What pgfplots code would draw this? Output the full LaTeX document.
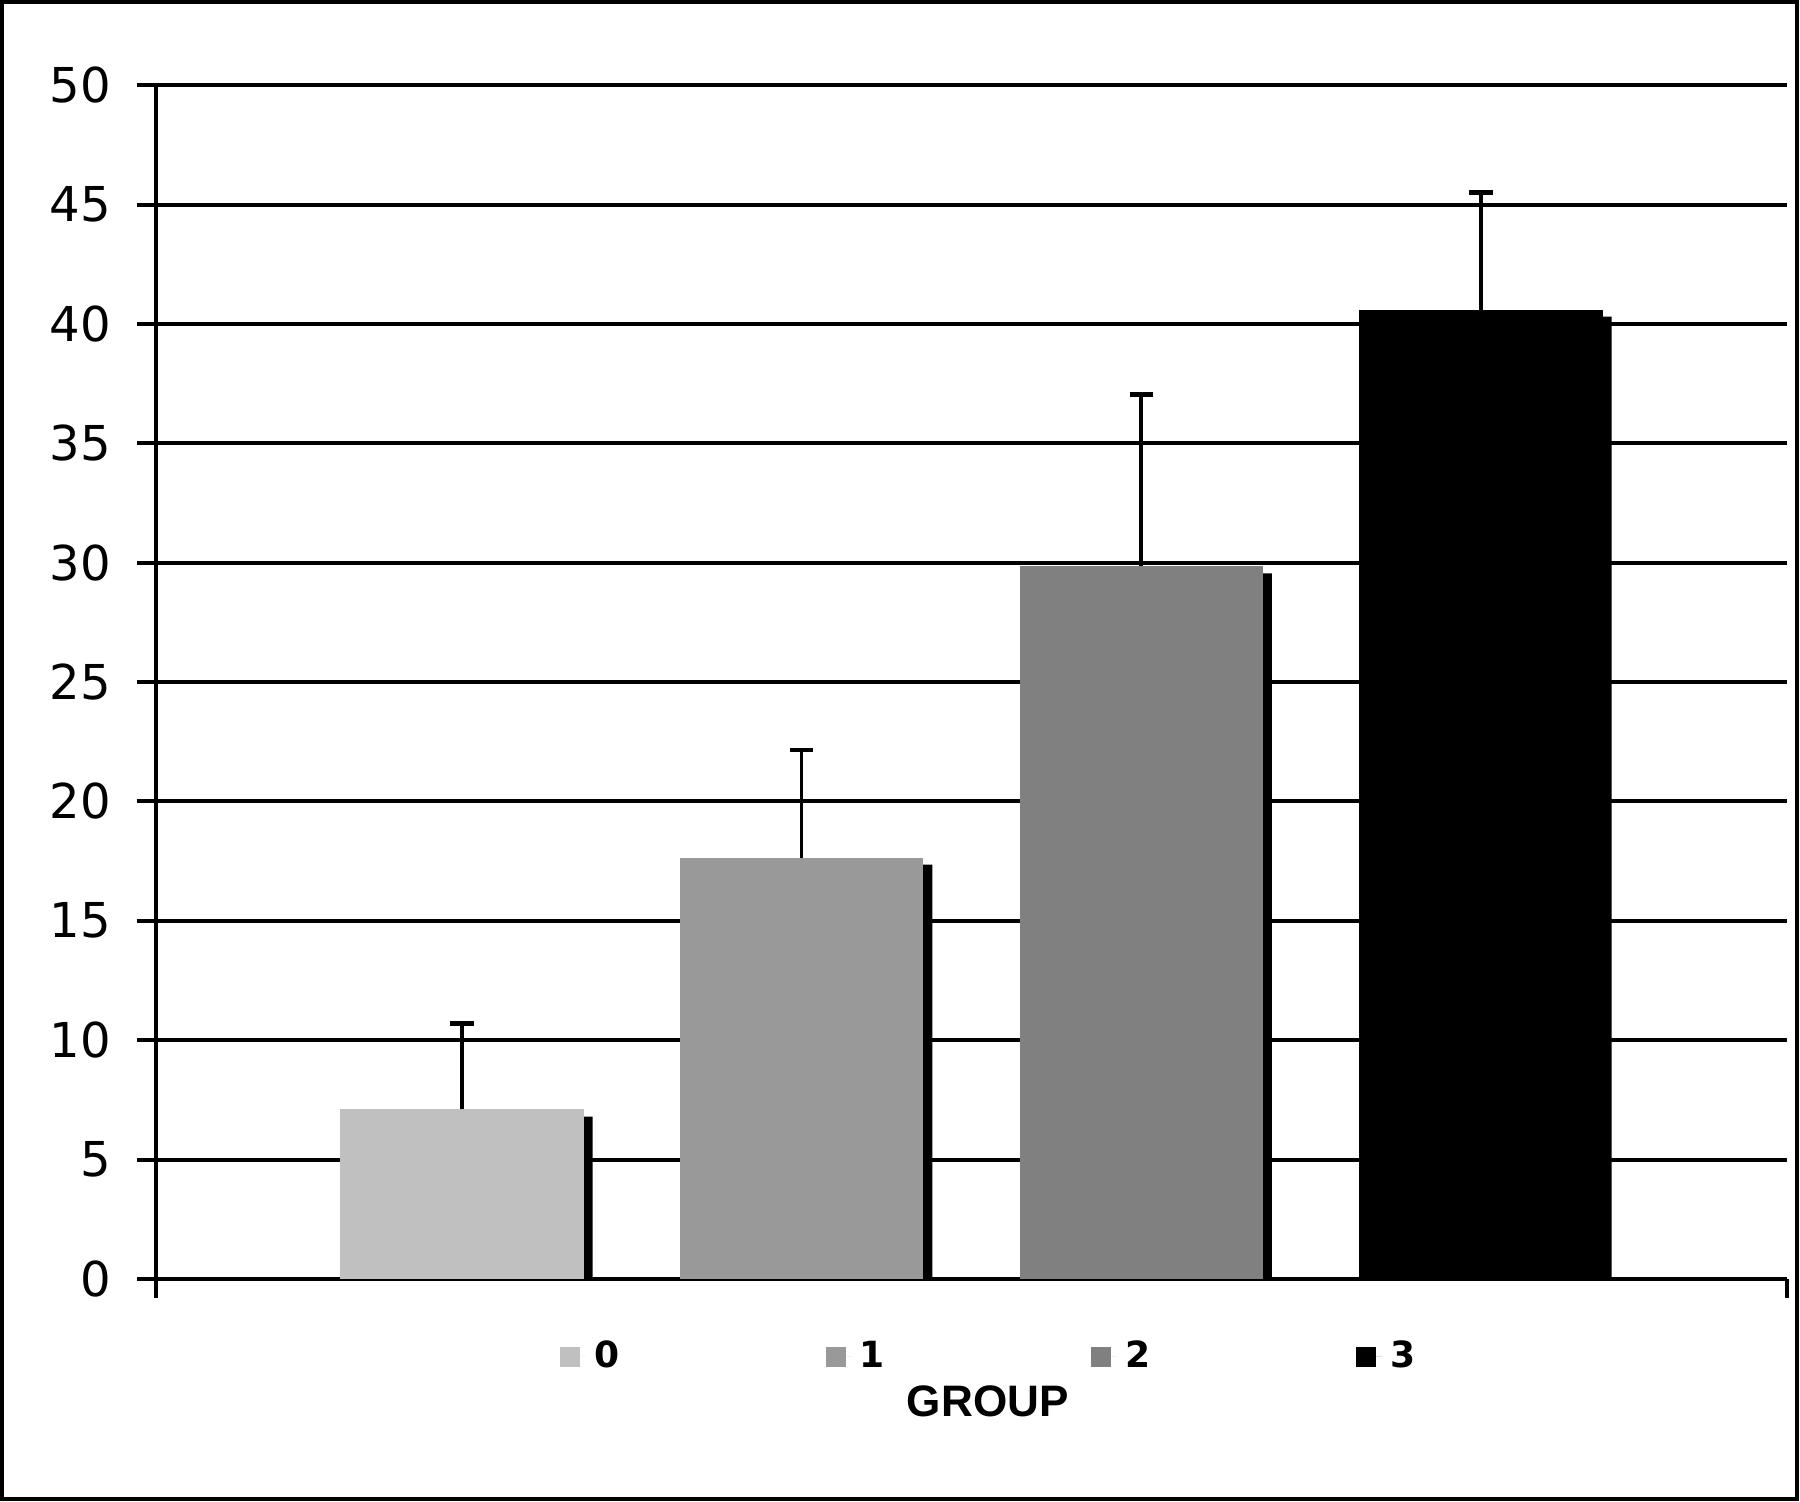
\documentclass[border=0pt]{standalone}
\usepackage{fontspec}
\setmainfont{DejaVu Sans}
\newfontfamily\arialfont{Liberation Sans}
\usepackage{pgfplots}
\pgfplotsset{compat=1.18}

\definecolor{gzero}{RGB}{192,192,192}
\definecolor{gone}{RGB}{153,153,153}
\definecolor{gtwo}{RGB}{128,128,128}
\definecolor{gthree}{RGB}{0,0,0}

\pgfplotsset{
    errstyle/.style={
        error bars/.cd,
        y dir=plus, y explicit,
        error bar style={line width=0.9pt, black, solid},
        error mark options={rotate=90, line width=1.1pt, mark size=2.9pt, black, solid},
    },
}

\begin{document}
\begin{tikzpicture}
\begin{axis}[
    name=ax,
    scale only axis,
    width=407pt, height=298pt,
    xmin=0.1, xmax=4.9,
    ymin=0, ymax=50,
    axis lines*=left,
    axis line style={line width=1pt},
    ytick={0,5,...,50},
    xtick={0.1,4.9},
    xticklabels={,},
    tick align=outside,
    major tick length=4.75pt,
    tick style={black, line width=1pt},
    ymajorgrids=true,
    grid style={black, line width=1pt},
    /pgf/number format/assume math mode=true,
    yticklabel style={font=\fontsize{12}{14}\selectfont, xshift=-3pt},
    ybar,
    bar width=60.75pt,
    clip=false,
    legend columns=4,
    legend style={draw=none, fill=none, at={(0.5125,-0.0654)}, anchor=center,
        font=\bfseries\fontsize{9}{11}\selectfont,
        /tikz/every even column/.append style={column sep=49.5pt}},
    legend image code/.code={\fill[#1] (0pt,-2.5pt) rectangle (5pt,2.5pt); \path (0pt,0pt) -- (6.5pt,0pt);},
]
% shadows
\addplot[fill=black, draw=none, bar shift=2.25pt, forget plot]
    coordinates {(1,6.8) (2,17.35) (3,29.55) (4,40.3)};

\addplot[fill=gzero, draw=none, bar shift=0pt, errstyle] coordinates {(1,7.1) +- (0,3.6)};
\addlegendentry{0}
\addplot[fill=gone, draw=none, bar shift=0pt, errstyle] coordinates {(2,17.65) +- (0,4.5)};
\addlegendentry{1}
\addplot[fill=gtwo, draw=none, bar shift=0pt, errstyle] coordinates {(3,29.85) +- (0,7.2)};
\addlegendentry{2}
\addplot[fill=gthree, draw=none, bar shift=0pt, errstyle] coordinates {(4,40.6) +- (0,4.9)};
\addlegendentry{3}

\node[font=\arialfont\bfseries\fontsize{11}{13}\selectfont] at (axis description cs:0.51,-0.1023) {GROUP};
\end{axis}
\draw[line width=1pt] ([xshift=-38.5pt,yshift=-55pt]ax.south west) rectangle ([xshift=2.5pt,yshift=20.75pt]ax.north east);
\end{tikzpicture}
\end{document}
